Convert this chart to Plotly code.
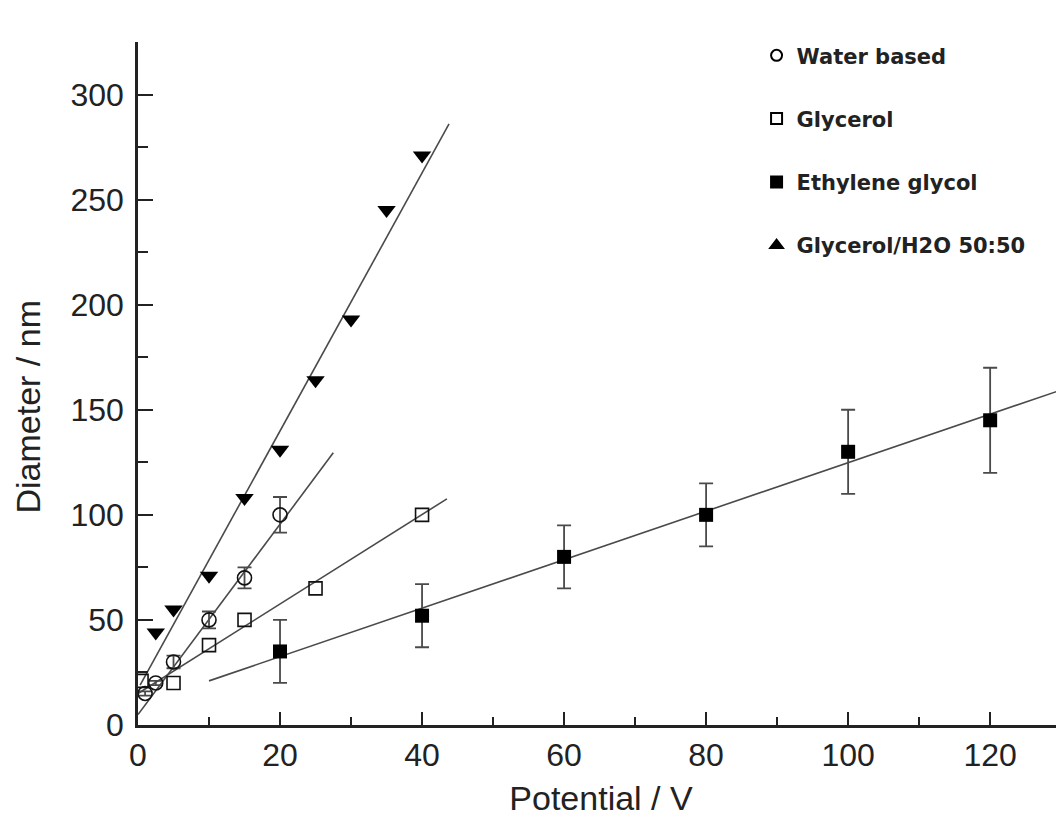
import plotly.graph_objects as go

# ---- data ----
water_x = [1, 2.5, 5, 10, 15, 20]
water_y = [15, 20, 30, 50, 70, 100]
water_err = [1, 1, 3, 4, 5, 8.5]

gly_x = [0.5, 5, 10, 15, 25, 40]
gly_y = [21, 20, 38, 50, 65, 100]

eg_x = [20, 40, 60, 80, 100, 120]
eg_y = [35, 52, 80, 100, 130, 145]
eg_err = [15, 15, 15, 15, 20, 25]

mix_x = [2.5, 5, 10, 15, 20, 25, 30, 35, 40]
mix_y = [44, 55, 71, 108, 131, 164, 193, 245, 271]

# linear-fit line end points
water_fit_x = [0, 27.5]
water_fit_y = [5, 129.5]
gly_fit_x = [0, 43.5]
gly_fit_y = [15, 107.6]
eg_fit_x = [10, 130.5]
eg_fit_y = [21, 160]
mix_fit_x = [0.3, 43.8]
mix_fit_y = [19, 286]

legend_names = ["Water based", "Glycerol", "Ethylene glycol", "Glycerol/H2O 50:50"]
legend_symbols = ["circle-open", "square-open", "square", "triangle-up"]

LINE = "#4a4a4a"
INK = "#111111"
AX = "#222222"
FONT = "Liberation Sans, Arial, sans-serif"

fig = go.Figure()

for fx, fy in [(water_fit_x, water_fit_y), (gly_fit_x, gly_fit_y),
               (eg_fit_x, eg_fit_y), (mix_fit_x, mix_fit_y)]:
    fig.add_trace(go.Scatter(x=fx, y=fy, mode="lines",
                             line=dict(color=LINE, width=1.6),
                             showlegend=False, hoverinfo="skip"))

fig.add_trace(go.Scatter(x=water_x, y=water_y, mode="markers", showlegend=False,
                         marker=dict(symbol="circle-open", size=14, color=INK,
                                     line=dict(width=1.6, color=INK)),
                         error_y=dict(type="data", array=water_err, color=LINE,
                                      thickness=1.8, width=7)))
fig.add_trace(go.Scatter(x=gly_x, y=gly_y, mode="markers", showlegend=False,
                         marker=dict(symbol="square-open", size=13, color=INK,
                                     line=dict(width=1.6, color=INK))))
fig.add_trace(go.Scatter(x=eg_x, y=eg_y, mode="markers", showlegend=False,
                         marker=dict(symbol="square", size=14, color="black"),
                         error_y=dict(type="data", array=eg_err, color=LINE,
                                      thickness=1.8, width=7)))
fig.add_trace(go.Scatter(x=mix_x, y=mix_y, mode="markers", showlegend=False,
                         marker=dict(symbol="triangle-down", size=16, color="black")))

# legend entries
for i, (name, sym) in enumerate(zip(legend_names, legend_symbols)):
    fig.add_trace(go.Scatter(x=[None], y=[None], mode="markers", name=name,
                             legendgroup=f"g{i}",
                             marker=dict(symbol=sym, size=11, color="black",
                                         line=dict(width=2, color="black"))))

axis_common = dict(
    showline=True, linecolor=AX, linewidth=2.5,
    ticks="inside", tickwidth=2, tickcolor=AX,
    showgrid=False, zeroline=False, automargin=False,
    tickfont=dict(family=FONT, size=32, color=AX),
)

fig.update_xaxes(range=[0, 130.4], dtick=20, tick0=0, ticklen=13,
                 minor=dict(ticks="inside", dtick=10, ticklen=8, tickwidth=2, tickcolor=AX),
                 title=dict(text="Potential / V", standoff=22,
                            font=dict(family=FONT, size=34, color=AX)),
                 **axis_common)
fig.update_yaxes(range=[0, 325], dtick=50, tick0=0, ticklen=15, ticklabelstandoff=5,
                 minor=dict(ticks="inside", dtick=25, ticklen=10, tickwidth=2, tickcolor=AX),
                 **axis_common)

# y-axis title placed slightly below the plot middle, as in the reference
fig.add_annotation(text="Diameter / nm", xref="paper", yref="paper",
                   x=-0.119, y=0.466, xanchor="center", yanchor="middle",
                   textangle=-90, showarrow=False,
                   font=dict(family=FONT, size=34, color=AX))

fig.update_layout(
    width=1056, height=809,
    margin=dict(l=130, r=0, t=34, b=92),
    plot_bgcolor="white", paper_bgcolor="white",
    legend=dict(x=0.668, y=1.01, xanchor="left", yanchor="top",
                tracegroupgap=33, itemwidth=30,
                font=dict(family="DejaVu Sans, sans-serif", size=21, color="#222222", weight="bold"),
                bgcolor="rgba(0,0,0,0)"),
)

fig.write_html("out.html")
